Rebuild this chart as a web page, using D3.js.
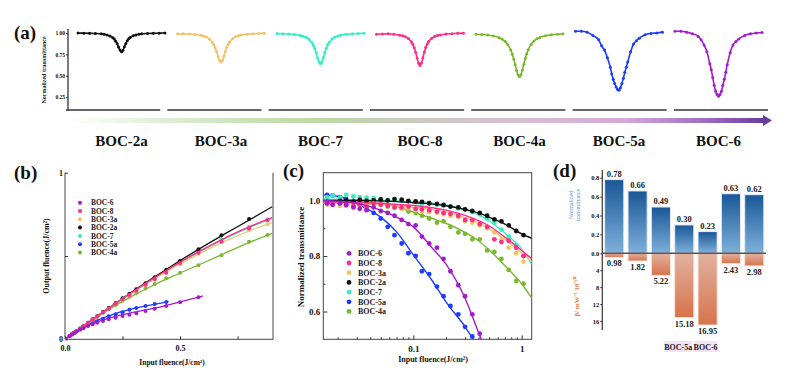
<!DOCTYPE html>
<html>
<head>
<meta charset="utf-8">
<script src="https://cdn.jsdelivr.net/npm/d3@7"></script>
<style>body{margin:0;background:#fff}</style>
</head>
<body>
<svg id="fig" width="800" height="381"></svg>
<script>
const serif = '"Liberation Serif","Times New Roman",serif';

// samples, in the order of panel (a)
const samples = ['BOC-2a', 'BOC-3a', 'BOC-7', 'BOC-8', 'BOC-4a', 'BOC-5a', 'BOC-6'];
const legendOrder = ['BOC-6', 'BOC-8', 'BOC-3a', 'BOC-2a', 'BOC-7', 'BOC-5a', 'BOC-4a'];
const colors = {
  'BOC-2a': '#111111', 'BOC-3a': '#f2c46a', 'BOC-7': '#33efc0', 'BOC-8': '#ff2d86',
  'BOC-4a': '#7cb82f', 'BOC-5a': '#1e3cff', 'BOC-6': '#a21ccc'
};

// (a) open aperture z-scan, normalized transmittance vs z
const zPos = [-15, -13, -11, -9, -7, -6, -5, -4, -3, -2.5, -2, -1.5, -1, -0.5, 0, 0.5, 1, 1.5, 2, 2.5, 3, 4, 5, 6, 7, 9, 11, 13, 15];
const zs2a = [1.0, 0.998, 0.996, 0.994, 0.99, 0.985, 0.976, 0.965, 0.945, 0.93, 0.905, 0.874, 0.835, 0.8, 0.78, 0.797, 0.84, 0.878, 0.91, 0.932, 0.948, 0.967, 0.978, 0.985, 0.99, 0.994, 0.996, 0.998, 1.0];
const zs3a = [0.99, 0.99, 0.988, 0.983, 0.973, 0.965, 0.952, 0.93, 0.893, 0.865, 0.828, 0.78, 0.726, 0.682, 0.66, 0.68, 0.73, 0.784, 0.832, 0.869, 0.897, 0.934, 0.955, 0.968, 0.976, 0.986, 0.991, 0.995, 0.998];
const zs7 = [0.993, 0.991, 0.988, 0.982, 0.972, 0.963, 0.95, 0.927, 0.888, 0.858, 0.818, 0.768, 0.71, 0.66, 0.64, 0.662, 0.714, 0.772, 0.822, 0.862, 0.89, 0.93, 0.952, 0.966, 0.975, 0.985, 0.99, 0.995, 0.997];
const zs8 = [0.985, 0.988, 0.99, 0.985, 0.975, 0.967, 0.955, 0.935, 0.897, 0.868, 0.828, 0.774, 0.708, 0.645, 0.62, 0.648, 0.712, 0.778, 0.832, 0.872, 0.9, 0.938, 0.958, 0.97, 0.978, 0.988, 0.992, 0.996, 0.998];
const zs4a = [0.985, 0.982, 0.976, 0.965, 0.945, 0.928, 0.903, 0.863, 0.8, 0.753, 0.697, 0.63, 0.562, 0.51, 0.49, 0.512, 0.567, 0.636, 0.702, 0.758, 0.803, 0.867, 0.907, 0.932, 0.948, 0.968, 0.979, 0.986, 0.99];
const zs5a = [1.02, 1.02, 1.01, 0.97, 0.92, 0.85, 0.8, 0.71, 0.6, 0.52, 0.46, 0.41, 0.37, 0.34, 0.33, 0.36, 0.41, 0.47, 0.54, 0.6, 0.66, 0.78, 0.87, 0.91, 0.94, 0.98, 0.995, 1.0, 1.01];
const zs6 = [1.02, 1.02, 1.01, 0.99, 0.96, 0.92, 0.86, 0.78, 0.64, 0.57, 0.48, 0.39, 0.32, 0.28, 0.26, 0.28, 0.32, 0.39, 0.46, 0.54, 0.63, 0.77, 0.86, 0.9, 0.93, 0.97, 0.99, 1.0, 1.005];
const aTicks = [0.25, 0.5, 0.75, 1.0];

// (b) output fluence vs input fluence (J/cm2)
const bX = [0.02, 0.03, 0.04, 0.05, 0.065, 0.08, 0.1, 0.12, 0.14, 0.165, 0.19, 0.22, 0.25, 0.28, 0.31, 0.35, 0.39, 0.44, 0.5, 0.58, 0.68, 0.8, 0.88];
const b2a = [0.02, 0.03, 0.04, 0.05, 0.065, 0.08, 0.1, 0.12, 0.139, 0.164, 0.188, 0.217, 0.246, 0.273, 0.3, 0.337, 0.373, 0.418, 0.47, 0.54, 0.625, 0.722, null];
const b7 = [0.02, 0.03, 0.04, 0.05, 0.065, 0.08, 0.1, 0.119, 0.139, 0.163, 0.187, 0.216, 0.245, 0.272, 0.299, 0.335, 0.37, 0.412, 0.463, 0.522, 0.6, 0.675, 0.72];
const b8 = [0.02, 0.03, 0.039, 0.049, 0.064, 0.079, 0.099, 0.118, 0.137, 0.161, 0.184, 0.212, 0.24, 0.266, 0.292, 0.327, 0.36, 0.4, 0.458, 0.52, 0.585, 0.665, 0.715];
const b3a = [0.02, 0.03, 0.039, 0.049, 0.064, 0.079, 0.098, 0.117, 0.136, 0.16, 0.183, 0.21, 0.237, 0.264, 0.29, 0.325, 0.358, 0.4, 0.45, 0.515, 0.59, 0.655, 0.69];
const b4a = [0.02, 0.03, 0.04, 0.05, 0.064, 0.079, 0.098, 0.117, 0.136, 0.159, 0.18, 0.206, 0.232, 0.255, 0.278, 0.305, 0.332, 0.366, 0.4, 0.445, 0.505, 0.585, 0.626];
const b6 = [0.02, 0.029, 0.038, 0.046, 0.057, 0.067, 0.08, 0.09, 0.1, 0.11, 0.12, 0.13, 0.14, 0.148, 0.156, 0.17, 0.184, 0.2, 0.222, 0.252, null, null, null];
const b5a = [0.02, 0.03, 0.039, 0.048, 0.06, 0.071, 0.085, 0.096, 0.108, 0.124, 0.138, 0.15, 0.163, 0.177, 0.188, 0.2, 0.212, 0.224, null, null, null, null, null];
const bFitX = [0, 0.05, 0.1, 0.2, 0.3, 0.4, 0.45, 0.5, 0.6, 0.7, 0.8, 0.9];
const bf2a = [0, 0.05, 0.1, 0.197, 0.292, 0.384, 0.428, 0.472, 0.556, 0.637, 0.715, 0.795];
const bf7 = [0, 0.05, 0.1, 0.197, 0.29, 0.378, 0.42, 0.46, 0.537, 0.607, 0.67, 0.725];
const bf8 = [0, 0.05, 0.099, 0.196, 0.29, 0.379, 0.421, 0.463, 0.54, 0.612, 0.675, 0.73];
const bf3a = [0, 0.05, 0.099, 0.195, 0.287, 0.373, 0.413, 0.452, 0.525, 0.592, 0.65, 0.7];
const bf4a = [0, 0.049, 0.097, 0.186, 0.265, 0.335, 0.367, 0.398, 0.458, 0.52, 0.58, 0.636];
const bf6 = [0, 0.046, 0.082, 0.13, 0.163, 0.19, 0.207, 0.225, 0.26, null, null, null];
const bf5a = [0, 0.047, 0.088, 0.145, 0.185, 0.213, 0.226, null, null, null, null, null];

// (c) normalized transmittance vs input fluence (log)
const cX = [0.016, 0.018, 0.021, 0.024, 0.028, 0.032, 0.037, 0.043, 0.05, 0.058, 0.067, 0.078, 0.09, 0.105, 0.12, 0.14, 0.165, 0.19, 0.22, 0.26, 0.3, 0.35, 0.41, 0.48, 0.56, 0.65, 0.76, 0.89, 1.04];
const c6 = [0.99, 0.985, 0.99, 0.985, 0.975, 0.97, 0.965, 0.975, 0.962, 0.955, 0.945, 0.93, 0.915, 0.91, 0.87, 0.845, 0.83, 0.79, 0.745, 0.695, 0.655, 0.59, 0.52, null, null, null, null, null, null];
const c8 = [0.99, 0.985, 0.99, 0.982, 0.98, 0.985, 0.978, 0.99, 0.985, 0.98, 0.975, 0.975, 0.978, 0.97, 0.968, 0.965, 0.96, 0.955, 0.952, 0.945, 0.93, 0.93, 0.915, 0.905, 0.86, 0.85, 0.855, 0.83, 0.8];
const c3a = [0.985, 0.99, 0.98, 0.985, 0.978, 0.98, 0.975, 0.98, 0.985, 0.978, 0.975, 0.97, 0.972, 0.965, 0.96, 0.958, 0.955, 0.95, 0.945, 0.94, 0.925, 0.92, 0.91, 0.9, 0.885, 0.86, 0.83, 0.81, 0.78];
const c2a = [0.995, 0.992, 0.998, 1.0, 0.996, 1.002, 0.998, 1.0, 1.004, 1.0, 1.005, 1.003, 0.998, 0.997, 0.995, 0.99, 0.988, 0.984, 0.978, 0.975, 0.968, 0.962, 0.955, 0.945, 0.932, 0.925, 0.91, 0.89, 0.875];
const c7 = [1.012, 1.018, 1.01, 1.02, 1.015, 1.012, 1.01, 1.008, 1.005, 1.0, 1.002, 0.998, 0.997, 0.994, 0.99, 0.99, 0.985, 0.98, 0.978, 0.972, 0.968, 0.958, 0.95, 0.935, 0.92, 0.895, 0.87, 0.84, 0.8];
const c5a = [1.02, 1.018, 1.012, 1.005, 0.998, 0.985, 0.972, 0.955, 0.935, 0.905, 0.875, 0.845, 0.81, 0.8, 0.745, 0.735, 0.69, 0.655, 0.62, 0.59, 0.545, 0.51, null, null, null, null, null, null, null];
const c4a = [1.0, 0.995, 1.0, 0.992, 0.995, 0.99, 0.993, 0.988, 0.985, 0.978, 0.975, 0.97, 0.96, 0.955, 0.945, 0.935, 0.92, 0.925, 0.905, 0.885, 0.88, 0.86, 0.86, 0.82, 0.815, 0.79, 0.75, 0.71, 0.7];
const cFitX = [0.0148, 0.02, 0.03, 0.05, 0.07, 0.1, 0.15, 0.2, 0.3, 0.4, 0.5, 0.7, 1.0, 1.24];
const cf2a = [1.0, 1.0, 1.0, 0.998, 0.996, 0.992, 0.987, 0.981, 0.968, 0.955, 0.94, 0.915, 0.88, 0.864];
const cf7 = [1.005, 1.004, 1.002, 1.0, 0.998, 0.995, 0.99, 0.983, 0.966, 0.948, 0.927, 0.882, 0.825, 0.77];
const cf8 = [0.995, 0.994, 0.992, 0.99, 0.986, 0.982, 0.974, 0.965, 0.946, 0.927, 0.908, 0.868, 0.82, 0.79];
const cf3a = [0.99, 0.989, 0.987, 0.985, 0.98, 0.975, 0.967, 0.958, 0.938, 0.918, 0.898, 0.86, 0.81, 0.78];
const cf4a = [1.0, 0.999, 0.995, 0.988, 0.978, 0.958, 0.935, 0.918, 0.885, 0.855, 0.822, 0.765, 0.7, 0.648];
const cf6 = [1.0, 0.997, 0.99, 0.965, 0.94, 0.905, 0.828, 0.771, 0.648, 0.524, 0.43, null, null, null];
const cf5a = [1.02, 1.015, 0.988, 0.94, 0.887, 0.804, 0.71, 0.635, 0.545, 0.47, 0.41, null, null, null];

// (d) bars: normalized transmittance (up) and beta (down)
const dCats = ['BOC-2a', 'BOC-3a', 'BOC-4a', 'BOC-5a', 'BOC-6', 'BOC-7', 'BOC-8'];
const dTrans = [0.78, 0.66, 0.49, 0.30, 0.23, 0.63, 0.62];
const dBeta = [0.98, 1.82, 5.22, 15.18, 16.95, 2.43, 2.98];
const dTransTicks = [0, 0.2, 0.4, 0.6, 0.8];
const dBetaTicks = [4, 8, 12, 16];
const dMarked = ['BOC-5a', 'BOC-6'];

const zscan = {'BOC-2a': zs2a, 'BOC-3a': zs3a, 'BOC-7': zs7, 'BOC-8': zs8, 'BOC-4a': zs4a, 'BOC-5a': zs5a, 'BOC-6': zs6};
const bPts = {'BOC-2a': b2a, 'BOC-3a': b3a, 'BOC-7': b7, 'BOC-8': b8, 'BOC-4a': b4a, 'BOC-5a': b5a, 'BOC-6': b6};
const bFit = {'BOC-2a': bf2a, 'BOC-3a': bf3a, 'BOC-7': bf7, 'BOC-8': bf8, 'BOC-4a': bf4a, 'BOC-5a': bf5a, 'BOC-6': bf6};
const cPts = {'BOC-2a': c2a, 'BOC-3a': c3a, 'BOC-7': c7, 'BOC-8': c8, 'BOC-4a': c4a, 'BOC-5a': c5a, 'BOC-6': c6};
const cFit = {'BOC-2a': cf2a, 'BOC-3a': cf3a, 'BOC-7': cf7, 'BOC-8': cf8, 'BOC-4a': cf4a, 'BOC-5a': cf5a, 'BOC-6': cf6};

const svg = d3.select('#fig');
svg.append('rect').attr('width', 800).attr('height', 381).attr('fill', '#fff');
const defs = svg.append('defs');

function styleAxis(g, fs) {
  g.attr('font-family', serif).attr('font-size', fs).attr('font-weight', 'bold');
  g.selectAll('line').attr('stroke', '#333');
  g.selectAll('text').attr('fill', '#111');
  g.select('.domain').remove();
}
function panelLabel(txt, x, y) {
  svg.append('text').attr('x', x).attr('y', y).text(txt)
    .attr('font-family', serif).attr('font-weight', 'bold').attr('font-size', 19).attr('fill', '#111');
}
function zipPts(xs, ys) {
  return xs.map((x, i) => [x, ys[i]]).filter(d => d[1] != null);
}

// ---------- panel (a) ----------
panelLabel('(a)', 14, 39);
const aSeg = d3.scaleBand().domain(samples).range([66, 768]).paddingInner(0.07);
const aBand = d3.scaleBand().domain(samples).range([78, 762]).paddingInner(0.126);
const aZ = d3.scaleLinear().domain([-15, 15]).range([0, aBand.bandwidth()]);
const aY = d3.scaleLinear().domain([0.1, 1.0]).range([110, 33]);

const gA = svg.append('g');
gA.append('line').attr('x1', 68).attr('x2', 68).attr('y1', 29).attr('y2', 110.5)
  .attr('stroke', '#333').attr('stroke-width', 1.3);
gA.append('g').attr('transform', 'translate(68,0)')
  .call(d3.axisLeft(aY).tickValues(aTicks).tickSize(2).tickPadding(1).tickFormat(d3.format('.2f')))
  .call(g => styleAxis(g, 5.5));
gA.append('text').attr('transform', 'translate(46,70) rotate(-90)').attr('text-anchor', 'middle')
  .attr('font-family', serif).attr('font-size', 6).attr('font-weight', 'bold').attr('fill', '#222')
  .text('Normalized transmittance');

gA.selectAll('line.seg').data(samples).join('line').attr('class', 'seg')
  .attr('x1', d => aSeg(d)).attr('x2', d => aSeg(d) + aSeg.bandwidth())
  .attr('y1', 110).attr('y2', 110).attr('stroke', '#333').attr('stroke-width', 1.7);

const aLine = d3.line().x(d => aZ(d[0])).y(d => aY(d[1])).curve(d3.curveMonotoneX);
samples.forEach(s => {
  const pts = zipPts(zPos, zscan[s]);
  const g = gA.append('g').attr('transform', `translate(${aBand(s)},0)`);
  g.append('path').attr('d', aLine(pts)).attr('fill', 'none')
    .attr('stroke', colors[s]).attr('stroke-width', 1.6);
  g.selectAll('circle').data(pts).join('circle')
    .attr('cx', d => aZ(d[0])).attr('cy', d => aY(d[1])).attr('r', 1.5).attr('fill', colors[s]);
});

// gradient arrow
const arrowGrad = defs.append('linearGradient').attr('id', 'arrowGrad');
[[0, '#ffffff'], [0.12, '#e4efdb'], [0.35, '#bcd9a3'], [0.5, '#cbcabf'], [0.65, '#d8bfd2'],
 [0.8, '#d4a9d8'], [0.9, '#a576c6'], [1, '#6b3ca0']].forEach(s =>
  arrowGrad.append('stop').attr('offset', s[0]).attr('stop-color', s[1]));
gA.append('rect').attr('x', 66).attr('y', 118).attr('width', 698).attr('height', 5)
  .attr('fill', 'url(#arrowGrad)');
gA.append('path').attr('d', 'M763,115 L772,120.5 L763,126 Z').attr('fill', '#6b3ca0');

gA.selectAll('text.name').data(samples).join('text').attr('class', 'name')
  .attr('x', d => aBand(d) + aBand.bandwidth() / 2).attr('y', 146)
  .attr('text-anchor', 'middle').attr('font-family', serif).attr('font-weight', 'bold')
  .attr('font-size', 15).attr('fill', '#111').text(d => d);

// ---------- panel (b) ----------
panelLabel('(b)', 14, 179);
const bx = d3.scaleLinear().domain([0, 0.904]).range([65, 273]);
const by = d3.scaleLinear().domain([0, 1]).range([339.3, 172.7]);
const gB = svg.append('g');
defs.append('clipPath').attr('id', 'clipB').append('rect')
  .attr('x', 65).attr('y', 172.7).attr('width', 208).attr('height', 166.6);

gB.append('path').attr('d', `M65,172.7 V339.3 H273 V172.7`).attr('fill', 'none')
  .attr('stroke', '#444').attr('stroke-width', 1);
gB.append('g').attr('transform', 'translate(65,0)')
  .call(d3.axisLeft(by).tickValues([0, 0.5, 1]).tickSizeInner(-3).tickSizeOuter(0).tickPadding(2)
    .tickFormat(d => d === 0.5 ? '' : d3.format('d')(d)))
  .call(g => styleAxis(g, 8));
gB.append('g').attr('transform', 'translate(0,339.3)')
  .call(d3.axisBottom(bx).tickValues([0, 0.25, 0.5, 0.75]).tickSizeInner(-3).tickSizeOuter(0).tickPadding(6)
    .tickFormat(d => (d === 0 || d === 0.5) ? d3.format('.1f')(d) : ''))
  .call(g => styleAxis(g, 8));
gB.append('text').attr('transform', 'translate(49,256) rotate(-90)').attr('text-anchor', 'middle')
  .attr('font-family', serif).attr('font-size', 8).attr('font-weight', 'bold').attr('fill', '#111')
  .text('Output fluence(J/cm²)');
gB.append('text').attr('x', 172).attr('y', 365).attr('text-anchor', 'middle')
  .attr('font-family', serif).attr('font-size', 7.5).attr('font-weight', 'bold').attr('fill', '#111')
  .text('Input fluence(J/cm²)');

const bLine = d3.line().x(d => bx(d[0])).y(d => by(d[1])).curve(d3.curveMonotoneX);
const bPlot = gB.append('g').attr('clip-path', 'url(#clipB)');
legendOrder.slice().reverse().forEach(s => {
  bPlot.append('path').attr('d', bLine(zipPts(bFitX, bFit[s]))).attr('fill', 'none')
    .attr('stroke', colors[s]).attr('stroke-width', 1.3);
  bPlot.append('g').selectAll('circle').data(zipPts(bX, bPts[s])).join('circle')
    .attr('cx', d => bx(d[0])).attr('cy', d => by(d[1])).attr('r', 2).attr('fill', colors[s]);
});
const bLeg = gB.append('g');
legendOrder.forEach((s, i) => {
  const y = 202.7 + i * 8.3;
  bLeg.append('circle').attr('cx', 80).attr('cy', y).attr('r', 2).attr('fill', colors[s]);
  bLeg.append('text').attr('x', 91).attr('y', y + 2.6).text(s)
    .attr('font-family', serif).attr('font-size', 7.5).attr('font-weight', 'bold').attr('fill', '#222');
});

// ---------- panel (c) ----------
panelLabel('(c)', 283, 177);
const cx = d3.scaleLog().domain([0.01475, 1.237]).range([323.3, 531.7]);
const cy = d3.scaleLinear().domain([0.5, 1.1]).range([339.3, 172.7]);
const gC = svg.append('g');
defs.append('clipPath').attr('id', 'clipC').append('rect')
  .attr('x', 323.3).attr('y', 172.7).attr('width', 208.4).attr('height', 166.6);

gC.append('g').attr('transform', 'translate(323.3,0)')
  .call(d3.axisLeft(cy).tickValues([0.6, 0.8, 1.0]).tickSizeInner(-4).tickSizeOuter(0).tickPadding(3)
    .tickFormat(d3.format('.1f')))
  .call(g => styleAxis(g, 9));
gC.append('g').attr('transform', 'translate(323.3,0)')
  .call(d3.axisLeft(cy).tickValues([0.7, 0.9]).tickSizeInner(-2).tickSizeOuter(0).tickFormat(''))
  .call(g => styleAxis(g, 9));
gC.append('g').attr('transform', 'translate(0,339.3)')
  .call(d3.axisBottom(cx).tickValues([0.1, 1]).tickSizeInner(-4).tickSizeOuter(0).tickPadding(6)
    .tickFormat(d => d === 1 ? '1' : '0.1'))
  .call(g => styleAxis(g, 9));
gC.append('g').attr('transform', 'translate(0,339.3)')
  .call(d3.axisBottom(cx).tickValues([0.02, 0.03, 0.04, 0.05, 0.06, 0.07, 0.08, 0.09, 0.2, 0.3, 0.4, 0.5, 0.6, 0.7, 0.8, 0.9])
    .tickSizeInner(-2).tickSizeOuter(0).tickFormat(''))
  .call(g => styleAxis(g, 9));
gC.append('rect').attr('x', 323.3).attr('y', 172.7).attr('width', 208.4).attr('height', 166.6)
  .attr('fill', 'none').attr('stroke', '#444').attr('stroke-width', 1);
gC.append('text').attr('transform', 'translate(304,257) rotate(-90)').attr('text-anchor', 'middle')
  .attr('font-family', serif).attr('font-size', 9).attr('font-weight', 'bold').attr('fill', '#111')
  .text('Normalized transmittance');
gC.append('text').attr('x', 433).attr('y', 362).attr('text-anchor', 'middle')
  .attr('font-family', serif).attr('font-size', 8).attr('font-weight', 'bold').attr('fill', '#111')
  .text('Input fluence(J/cm²)');

const cLine = d3.line().x(d => cx(d[0])).y(d => cy(d[1])).curve(d3.curveMonotoneX);
const cPlot = gC.append('g').attr('clip-path', 'url(#clipC)');
legendOrder.slice().reverse().forEach(s => {
  cPlot.append('g').selectAll('circle').data(zipPts(cX, cPts[s])).join('circle')
    .attr('cx', d => cx(d[0])).attr('cy', d => cy(d[1])).attr('r', 2.4).attr('fill', colors[s]);
  cPlot.append('path').attr('d', cLine(zipPts(cFitX, cFit[s]))).attr('fill', 'none')
    .attr('stroke', colors[s]).attr('stroke-width', 1.4);
});
const cLeg = gC.append('g');
legendOrder.forEach((s, i) => {
  const y = 253.3 + i * 9.7;
  cLeg.append('circle').attr('cx', 349).attr('cy', y).attr('r', 2.4).attr('fill', colors[s]);
  cLeg.append('text').attr('x', 358).attr('y', y + 2.8).text(s)
    .attr('font-family', serif).attr('font-size', 8).attr('font-weight', 'bold').attr('fill', '#222');
});

// ---------- panel (d) ----------
panelLabel('(d)', 553, 177);
const dBand = d3.scaleBand().domain(dCats).range([603.5, 765]).paddingInner(0.18).paddingOuter(0.05);
const dTop = d3.scaleLinear().domain([0, 0.8]).range([253.3, 177.7]);
const dBot = d3.scaleLinear().domain([0, 16]).range([253.3, 321]);
const gD = svg.append('g');

const blueGrad = defs.append('linearGradient').attr('id', 'blueGrad').attr('x1', 0).attr('x2', 0).attr('y1', 0).attr('y2', 1);
blueGrad.append('stop').attr('offset', 0).attr('stop-color', '#1a5797');
blueGrad.append('stop').attr('offset', 1).attr('stop-color', '#7eb0db');
const orangeGrad = defs.append('linearGradient').attr('id', 'orangeGrad').attr('x1', 0).attr('x2', 0).attr('y1', 0).attr('y2', 1);
orangeGrad.append('stop').attr('offset', 0).attr('stop-color', '#e2b2a0');
orangeGrad.append('stop').attr('offset', 1).attr('stop-color', '#d7734b');

dCats.forEach((c, i) => {
  gD.append('rect').attr('x', dBand(c)).attr('width', dBand.bandwidth())
    .attr('y', dTop(dTrans[i])).attr('height', dTop(0) - dTop(dTrans[i]))
    .attr('fill', 'url(#blueGrad)').attr('stroke', '#e3ecf5').attr('stroke-width', 1);
  gD.append('rect').attr('x', dBand(c)).attr('width', dBand.bandwidth())
    .attr('y', dBot(0)).attr('height', dBot(dBeta[i]) - dBot(0))
    .attr('fill', 'url(#orangeGrad)').attr('stroke', '#f3e2da').attr('stroke-width', 1);
  const cxm = dBand(c) + dBand.bandwidth() / 2;
  gD.append('text').attr('x', cxm).attr('y', dTop(dTrans[i]) - 2.5).attr('text-anchor', 'middle')
    .attr('font-family', serif).attr('font-size', 8.5).attr('font-weight', 'bold').attr('fill', '#222')
    .text(d3.format('.2f')(dTrans[i]));
  gD.append('text').attr('x', cxm).attr('y', dBot(dBeta[i]) + 9).attr('text-anchor', 'middle')
    .attr('font-family', serif).attr('font-size', 8.5).attr('font-weight', 'bold').attr('fill', '#222')
    .text(d3.format('.2f')(dBeta[i]));
});
gD.append('line').attr('x1', 602).attr('x2', 766).attr('y1', dTop(0)).attr('y2', dTop(0))
  .attr('stroke', '#555').attr('stroke-width', 1.5);
gD.append('line').attr('x1', 602.3).attr('x2', 602.3).attr('y1', 170).attr('y2', 330)
  .attr('stroke', '#444').attr('stroke-width', 1.3);
gD.append('g').attr('transform', 'translate(602.3,0)')
  .call(d3.axisLeft(dTop).tickValues(dTransTicks).tickSize(2).tickPadding(1).tickFormat(d3.format('.1f')))
  .call(g => styleAxis(g, 6.5));
gD.append('g').attr('transform', 'translate(602.3,0)')
  .call(d3.axisLeft(dBot).tickValues(dBetaTicks).tickSize(2).tickPadding(1).tickFormat(d3.format('d')))
  .call(g => styleAxis(g, 6.5));

const tLab = gD.append('text').attr('transform', 'translate(576,205) rotate(-90)').attr('text-anchor', 'middle')
  .attr('font-family', serif).attr('font-size', 6).attr('fill', '#5b9bd5');
tLab.append('tspan').attr('x', 0).attr('dy', -3).text('Normalized');
tLab.append('tspan').attr('x', 0).attr('dy', 7).text('transmittance');
gD.append('text').attr('transform', 'translate(579,297) rotate(-90)').attr('text-anchor', 'middle')
  .attr('font-family', serif).attr('font-size', 7).attr('font-weight', 'bold').attr('fill', '#e8804a')
  .text('β/ mW⁻¹ 10⁻¹⁰');

// highlighted names under the two strongest absorbers
dMarked.forEach(c => {
  const cxm = dBand(c) + dBand.bandwidth() / 2;
  const w = c === 'BOC-5a' ? 28 : 24;
  const off = c === 'BOC-5a' ? -6 : -2;
  gD.append('rect').attr('x', cxm + off - w / 2).attr('y', 341).attr('width', w).attr('height', 11)
    .attr('fill', '#f4e3f3');
  gD.append('text').attr('x', cxm + off).attr('y', 350).attr('text-anchor', 'middle')
    .attr('font-family', serif).attr('font-size', 8).attr('font-weight', 'bold').attr('fill', '#222')
    .text(c);
});
</script>
</body>
</html>
